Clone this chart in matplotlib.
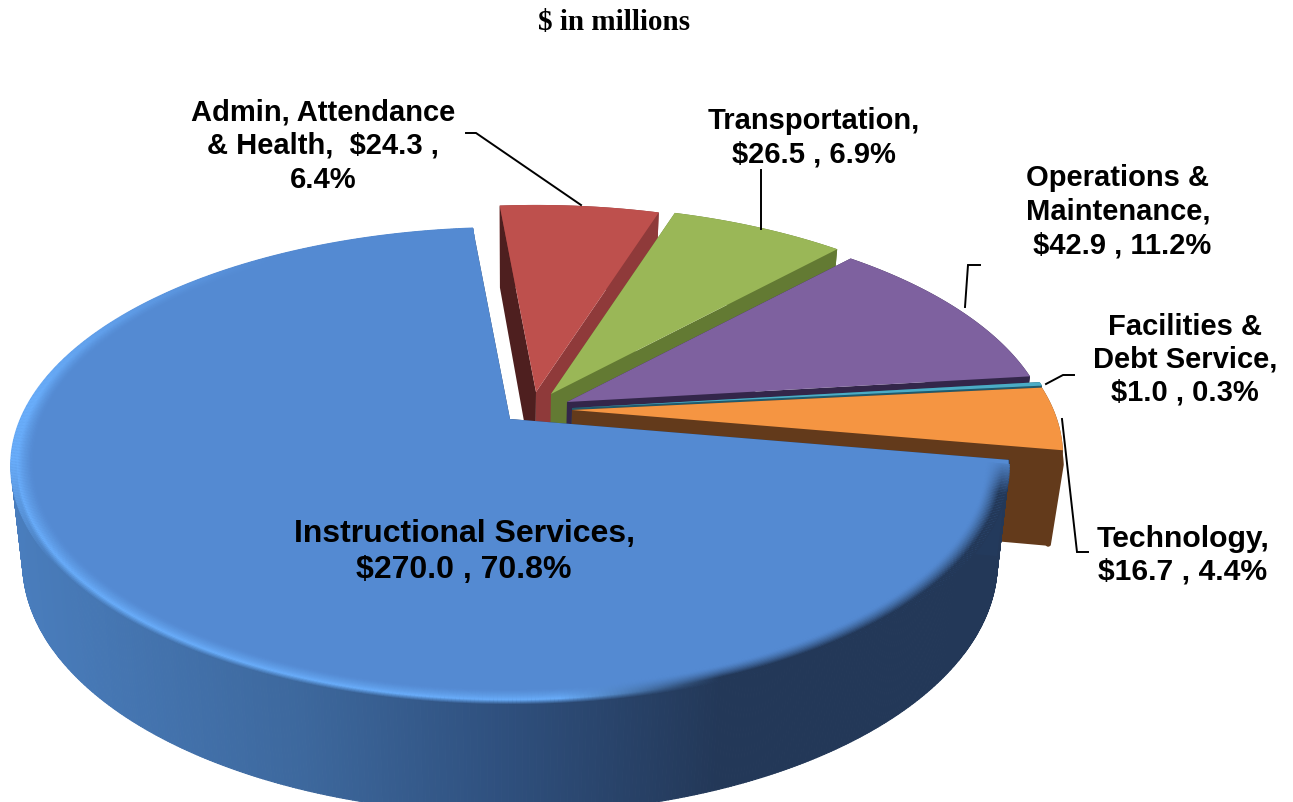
import numpy as np
import matplotlib
matplotlib.use("Agg")
import matplotlib.pyplot as plt
from matplotlib.patches import Polygon
from matplotlib.collections import LineCollection, PolyCollection
from matplotlib.colors import to_rgb

title = "$ in millions"
categories = ["Admin, Attendance\n& Health,  ", "Transportation,\n", "Operations &\nMaintenance,\n ",
              "Facilities &\nDebt Service,\n", "Technology,\n", "Instructional Services,\n"]
separators = [" ,\n", " , ", " , ", " , ", " , ", " , "]
values = [24.3, 26.5, 42.9, 1.0, 16.7, 270.0]

top_colors = ["#BE504D", "#9AB757", "#7E619F", "#4BACC6", "#F59542", "#548AD2"]
start_wall = ["#4E1F1F", "#637A33", "#33264A", "#1F4E5E", "#633A1B", "#233A5C"]
end_wall = ["#8F3A3A", "#637A33", "#33264A", "#215A6C", "#633A1B", "#233A5C"]
outer_wall = ["#8F3A3A", "#637A33", "#33264A", "#215A6C", "#633A1B", None]
rounded = [False, False, False, False, True, False]
explode = [(26, -27), (41, -25), (57, -17), (62, -11), (62, -9), (0, 0)]
radius = [0.975, 0.985, 0.975, 0.985, 0.985, 1.0]
label_pos = [(323, 146), (814, 138), (1118, 212), (1185, 360), (1183, 555), (464, 552)]
label_size = [21, 21, 21, 21, 21.7, 23]
label_spacing = [1.25, 1.25, 1.25, 1.22, 1.2, 1.3]

CX, CY, A, B, K = 510, 419, 489, 228.7, 0.197
START = -5.2


def project(phi, ox, oy, r=1.0):
    p = np.radians(phi)
    u, v = r * np.sin(p), -r * np.cos(p)
    s = 1 / (1 - K * v)
    return CX + ox + A * u * s, CY + oy + B * v * s


def drop(x, y):
    return CX + (x - CX) * 0.977, y + 94 + 0.055 * (y - CY)


fig = plt.figure(figsize=(12.93, 8.02), dpi=100)
ax = fig.add_axes([0, 0, 1, 1])
ax.set_xlim(0, 1293)
ax.set_ylim(802, 0)
ax.axis("off")

total = sum(values)
pct = [v / total * 100 for v in values]
edges = START + np.cumsum([0] + [p * 3.6 for p in pct])


def wall_colour(x):
    xs = [0, 300, 500, 720, 1010]
    rs = [to_rgb(c) for c in ["#4A7EBE", "#3D689D", "#2F507E", "#233858", "#233858"]]
    return np.stack([np.interp(x, xs, [c[i] for c in rs]) for i in range(3)], axis=-1)


for i, val in enumerate(values):
    ox, oy = explode[i]
    a0, a1 = edges[i], edges[i + 1]
    phi = np.linspace(a0, a1, max(8, int((a1 - a0) * 3)))
    x, y = project(phi, ox, oy, radius[i])
    bx, by = drop(x, y)
    apex = (CX + ox, CY + oy)
    bapex = drop(*apex)

    # outer wall
    if outer_wall[i]:
        ix, iy = x + 0.15 * (bx - x), y + 0.15 * (by - y)
        if rounded[i]:
            pts = np.r_[np.c_[ix, iy], np.c_[bx - 2, by - 2][::-1]]
            ax.add_patch(Polygon(pts, fc=outer_wall[i], ec=outer_wall[i], lw=4, joinstyle="round", zorder=2 + i * 3))
            pts = np.r_[np.c_[x, y], np.c_[ix, iy][::-1]]
        else:
            pts = np.r_[np.c_[x, y], np.c_[bx, by][::-1]]
        ax.add_patch(Polygon(pts, fc=outer_wall[i], ec="none", zorder=2 + i * 3))
    else:
        quads = [[(x[j], y[j]), (x[j + 1], y[j + 1]), (bx[j + 1], by[j + 1]), (bx[j], by[j])]
                 for j in range(len(x) - 1)]
        cols = [wall_colour((x[j] + x[j + 1]) / 2) for j in range(len(x) - 1)]
        ax.add_collection(PolyCollection(quads, facecolors=cols, edgecolors=cols, linewidths=0.8, zorder=2 + i * 3))

    # cut faces
    ax.add_patch(Polygon([apex, (x[0], y[0]), (bx[0], by[0]), bapex], fc=start_wall[i], ec="none", zorder=2 + i * 3))
    ax.add_patch(Polygon([apex, (x[-1], y[-1]), (bx[-1], by[-1]), bapex], fc=end_wall[i], ec="none", zorder=2 + i * 3))

    # top face
    ax.add_patch(Polygon(np.r_[[apex], np.c_[x, y]], fc=top_colors[i], ec="none", zorder=3 + i * 3))

    # rim bevel on the large slice
    if outer_wall[i] is None:
        face = np.array(to_rgb(top_colors[i]))
        light = np.array(to_rgb("#69ADFA"))
        dark = np.array(to_rgb("#233858"))
        phi = np.linspace(a0 + 1.0, a1, 700)
        for t in np.linspace(0, 1, 18):
            r = 1.0 - 0.045 * t
            px, py = project(phi, ox, oy, r)
            segs = np.stack([np.c_[px[:-1], py[:-1]], np.c_[px[1:], py[1:]]], axis=1)
            mx = (px[:-1] + px[1:]) / 2
            ph = (phi[:-1] + phi[1:]) / 2
            d = np.clip((mx - 560) / 160, 0, 1)[:, None]
            angular = (np.clip((325 - ph) / 50, 0, 1) * np.clip((ph - a0) / 8, 0, 1))[:, None]
            rim = light * (1 - d) + dark * d
            if t < 0.3:
                m = np.maximum(t / 0.3, np.clip((ph - 235) / 25, 0, 1))[:, None]
                rim = wall_colour(mx) * (1 - m) + rim * m
                fade = angular
            else:
                fade = angular * ((1 - t) / 0.7) ** 1.5
            cols = face * (1 - fade) + rim * fade
            ax.add_collection(LineCollection(segs, colors=cols, linewidths=1.6, capstyle="butt", zorder=4 + i * 3))

# leader lines
leaders = [[(466, 133), (476, 133), (581, 205)],
           [(761, 170), (761, 229)],
           [(980, 265), (968, 265), (965, 307)],
           [(1046, 384), (1063, 375), (1074, 375)],
           [(1062, 419), (1077, 552), (1088, 552)]]
for pts in leaders:
    xs, ys = zip(*pts)
    ax.plot(xs, ys, color="black", lw=1.4, zorder=40, solid_joinstyle="miter")

ax.text(614, 22, title, family="Liberation Serif", weight="bold", fontsize=21,
        ha="center", va="center", parse_math=False, zorder=50)

for cat, sep, val, p, (lx, ly), fs, ls in zip(categories, separators, values, pct, label_pos, label_size, label_spacing):
    ax.text(lx, ly, f"{cat}${val:.1f}{sep}{p:.1f}%", family="Liberation Sans", weight="bold",
            fontsize=fs, ha="center", va="center", linespacing=ls, parse_math=False, zorder=50)

fig.savefig("out.png", dpi=100)
